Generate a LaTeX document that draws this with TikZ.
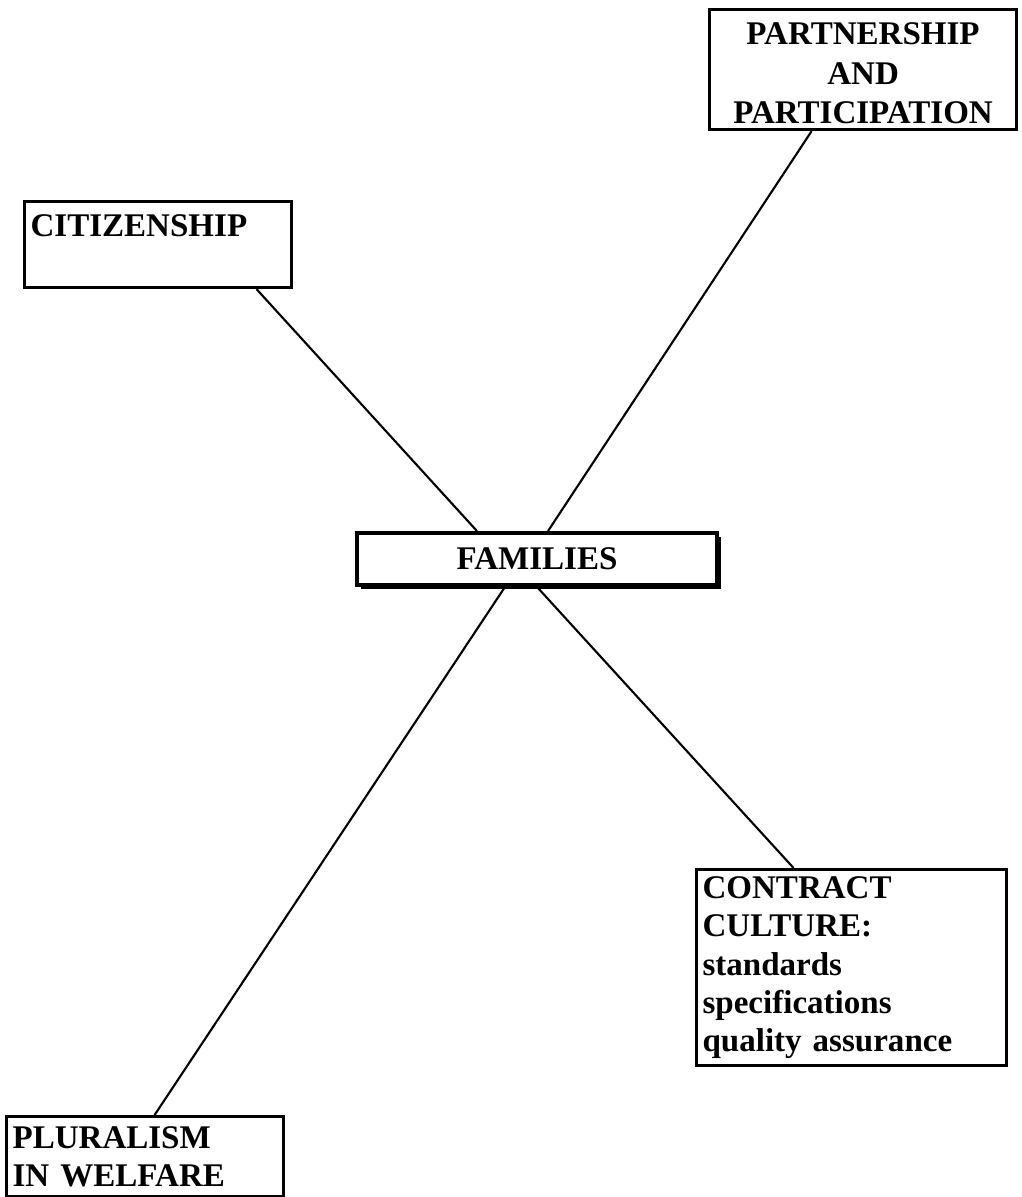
\documentclass[tikz,border=0pt]{standalone}
\usepackage{fontspec}
\setmainfont{Liberation Serif}
\usetikzlibrary{positioning, shadows}

\begin{document}
\begin{tikzpicture}[
    topic/.style={rectangle, draw=black, line width=0.9pt, fill=white, font=\fontsize{9.4}{10.9}\selectfont\bfseries, inner xsep=0.06cm, inner ysep=0.05cm},
    hub/.style={topic, line width=1.1pt, minimum width=3.6cm, minimum height=0.52cm, align=center,
                drop shadow={fill=black, opacity=1, shadow xshift=0.035cm, shadow yshift=-0.035cm}},
    link/.style={line width=0.6pt, black},
]
\useasboundingbox (0,0) rectangle (10.21,-11.97);

% === Centre ===
\node[hub] (families) at (5.37, -5.59) {FAMILIES};

% === Outer topics ===
\node[topic, anchor=north west, align=center, minimum width=3.07cm, inner ysep=0.06cm,
      text height=1.08cm, text depth=0cm, font=\fontsize{9.4}{11.2}\selectfont\bfseries]
    (partner) at (7.08, -0.08) {PARTNERSHIP\\AND\\PARTICIPATION};
\node[topic, anchor=north west, align=left, text width=2.55cm, minimum height=0.86cm]
    (citizen) at (0.23, -2.00) {CITIZENSHIP\\~};
\node[topic, anchor=north west, align=left, text width=2.98cm, inner ysep=0.07cm]
    (contract) at (6.95, -8.68) {CONTRACT\\CULTURE:\\standards\\specifications\\quality assurance};
\node[topic, anchor=north west, align=left, text width=2.65cm, minimum height=0.8cm]
    (plural) at (0.05, -11.15) {PLURALISM\\IN WELFARE};

% === Spokes ===
\draw[link] ([xshift=0.985cm]citizen.south) -- ([xshift=-0.6cm]families.north);
\draw[link] ([xshift=-0.515cm]partner.south) -- ([xshift=0.11cm]families.north);
\draw[link] (families.south) -- ([xshift=-0.58cm]contract.north);
\draw[link] ([xshift=-0.32cm]families.south) -- ([xshift=0.095cm]plural.north);

\end{tikzpicture}
\end{document}
